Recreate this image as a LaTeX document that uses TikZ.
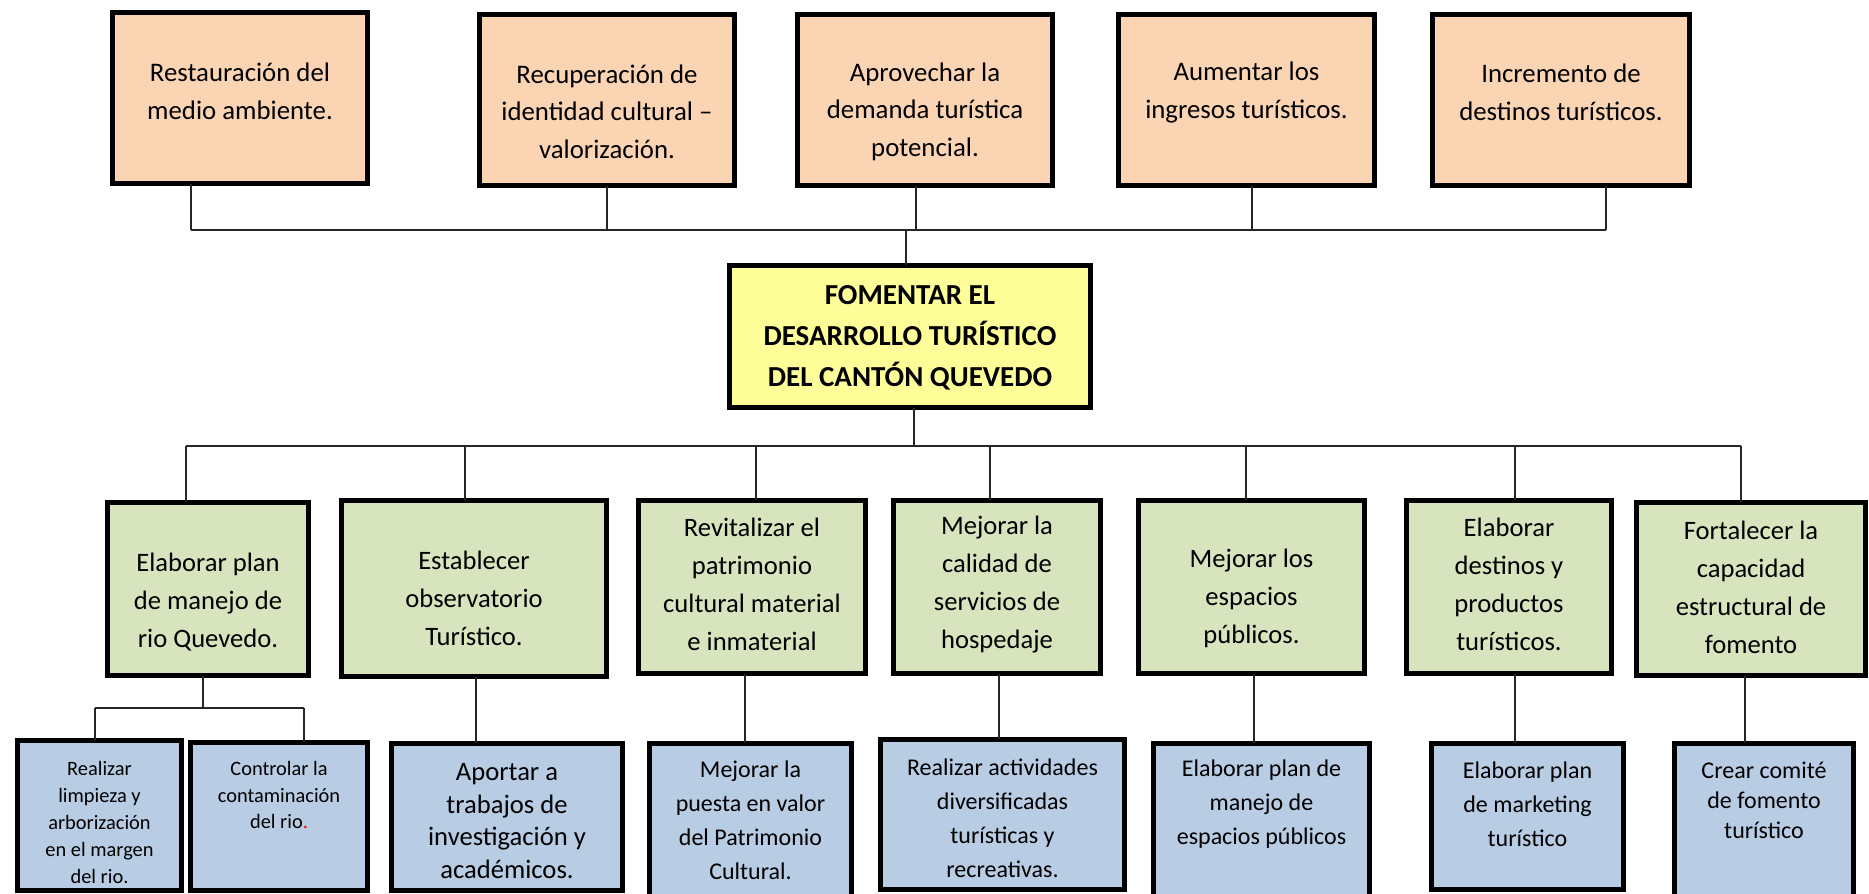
\documentclass[tikz,border=0pt]{standalone}
\usepackage{fontspec}
\setmainfont{Carlito}
\definecolor{peach}{RGB}{251,212,180}
\definecolor{lemon}{RGB}{255,255,153}
\definecolor{olivefill}{RGB}{215,228,189}
\definecolor{skyfill}{RGB}{184,204,228}
\tikzset{
  boxbase/.style={draw=black, line width=2.35pt, inner sep=0pt, outer sep=0pt, rectangle},
  topbox/.style={boxbase, fill=peach},
  mainbox/.style={boxbase, fill=lemon},
  greenbox/.style={boxbase, fill=olivefill},
  bluebox/.style={boxbase, fill=skyfill},
  wire/.style={line width=0.7pt, black!85},
  txt/.style={align=center, inner sep=0pt},
  topfont/.style={txt, font=\fontsize{13.4}{18.8}\selectfont},
  mainfont/.style={txt, font=\bfseries\fontsize{14.5}{20.5}\selectfont},
  greenfont/.style={txt, font=\fontsize{13.3}{19}\selectfont},
  smallfont/.style={txt, font=\fontsize{10.2}{13.4}\selectfont},
  bigbluefont/.style={txt, font=\fontsize{13.3}{16.4}\selectfont},
  bluefont/.style={txt, font=\fontsize{12}{17}\selectfont},
  tightbluefont/.style={txt, font=\fontsize{12}{15}\selectfont},
}
% name, x1, y1, x2, y2, box style, text centre y, text style, text
\newcommand\bx[9]{%
  \node[#6, minimum width={(#4-#2-4.7)*0.5pt}, minimum height={(#5-#3-4.7)*0.5pt}] (#1) at ({(#2+#4)/2},{(#3+#5)/2}) {};
  \node[#8] (#1t) at ({(#2+#4)/2},#7) {#9};
}
\begin{document}
\begin{tikzpicture}[x=0.5pt,y=-0.5pt]
\useasboundingbox (0,0) rectangle (1869,894);
\clip (0,0) rectangle (1869,894);
% top row
\bx{T1}{110}{10}{370}{186}{topbox}{91}{topfont}{Restauración del\\medio ambiente.}
\bx{T2}{477}{12}{737}{188}{topbox}{111.5}{topfont}{Recuperación de\\identidad cultural --\\valorización.}
\bx{T3}{795}{12}{1055}{188}{topbox}{111.5}{topfont}{Aprovechar la\\demanda turística\\potencial.}
\bx{T4}{1116}{12}{1377}{188}{topbox}{92.5}{topfont}{Aumentar los\\ingresos turísticos.}
\bx{T5}{1430}{12}{1692}{188}{topbox}{92.5}{topfont}{Incremento de\\destinos turísticos.}
% centre
\bx{C}{727}{263}{1093}{410}{mainbox}{338}{mainfont}{FOMENTAR EL\\DESARROLLO TURÍSTICO\\DEL CANTÓN QUEVEDO}
% green row
\bx{G1}{105}{500}{311}{678}{greenbox}{602}{greenfont}{Elaborar plan\\de manejo de\\rio Quevedo.}
\bx{G2}{339}{498}{609}{679}{greenbox}{598.5}{greenfont}{Establecer\\observatorio\\Turístico.}
\bx{G3}{636}{498}{868}{676}{greenbox}{584.5}{greenfont}{Revitalizar el\\patrimonio\\cultural material\\e inmaterial}
\bx{G4}{891}{498}{1103}{676}{greenbox}{584.5}{greenfont}{Mejorar la\\calidad de\\servicios de\\hospedaje}
\bx{G5}{1136}{498}{1367}{676}{greenbox}{598.5}{greenfont}{Mejorar los\\espacios\\públicos.}
\bx{G6}{1404}{498}{1614}{676}{greenbox}{584.5}{greenfont}{Elaborar\\destinos y\\productos\\turísticos.}
\bx{G7}{1634}{500}{1868}{678}{greenbox}{587.5}{greenfont}{Fortalecer la\\capacidad\\estructural de\\fomento}
% blue row
\bx{B1a}{15}{738}{184}{893}{bluebox}{822.5}{smallfont}{Realizar\\limpieza y\\arborización\\en el margen\\del rio.}
\bx{B1b}{188}{740}{370}{893}{bluebox}{795}{smallfont}{Controlar la\\contaminación\\del rio\textcolor{red}{.}}
\bx{B2}{389}{741}{625}{893}{bluebox}{821}{bigbluefont}{Aportar a\\trabajos de\\investigación y\\académicos.}
\bx{B3}{647}{741}{854}{900}{bluebox}{820}{bluefont}{Mejorar la\\puesta en valor\\del Patrimonio\\Cultural.}
\bx{B4}{878}{737}{1127}{892}{bluebox}{818}{bluefont}{Realizar actividades\\diversificadas\\turísticas y\\recreativas.}
\bx{B5}{1151}{741}{1372}{900}{bluebox}{804}{bluefont}{Elaborar plan de\\manejo de\\espacios públicos}
\bx{B6}{1429}{741}{1626}{892}{bluebox}{804}{bluefont}{Elaborar plan\\de marketing\\turístico}
\bx{B7}{1672}{741}{1856}{900}{bluebox}{800}{tightbluefont}{Crear comité\\de fomento\\turístico}
% top connectors
\coordinate (hA) at (191,230);
\coordinate (hB) at (607,230);
\coordinate (hM) at (916,230);
\coordinate (hD) at (1252,230);
\coordinate (hE) at (1606,230);
\coordinate (hC) at (906,230);
\draw[wire] (hA) -- (hE);
\draw[wire] (T1.south -| hA) -- (hA);
\draw[wire] (T2.south -| hB) -- (hB);
\draw[wire] (T3.south -| hM) -- (hM);
\draw[wire] (T4.south -| hD) -- (hD);
\draw[wire] (T5.south -| hE) -- (hE);
\draw[wire] (hC) -- (C.north -| hC);
% lower connectors
\coordinate (lC) at (914,446);
\coordinate (l1) at (186,446);
\coordinate (l2) at (465,446);
\coordinate (l3) at (756,446);
\coordinate (l4) at (990,446);
\coordinate (l5) at (1246,446);
\coordinate (l6) at (1515,446);
\coordinate (l7) at (1741,446);
\draw[wire] (C.south -| lC) -- (lC);
\draw[wire] (l1) -- (l7);
\foreach \i in {1,...,7} {\draw[wire] (l\i) -- (G\i.north -| l\i);}
% G1 split
\coordinate (s0) at (203,708);
\coordinate (s1) at (95,708);
\coordinate (s2) at (304,708);
\draw[wire] (G1.south -| s0) -- (s0);
\draw[wire] (s1) -- (s2);
\draw[wire] (s1) -- (B1a.north -| s1);
\draw[wire] (s2) -- (B1b.north -| s2);
% single children
\coordinate (v2) at (476,700);
\coordinate (v3) at (745,700);
\coordinate (v4) at (999,700);
\coordinate (v5) at (1254,700);
\coordinate (v6) at (1515,700);
\coordinate (v7) at (1745,700);
\foreach \i in {2,...,7} {\draw[wire] (G\i.south -| v\i) -- (B\i.north -| v\i);}
\end{tikzpicture}
\end{document}
